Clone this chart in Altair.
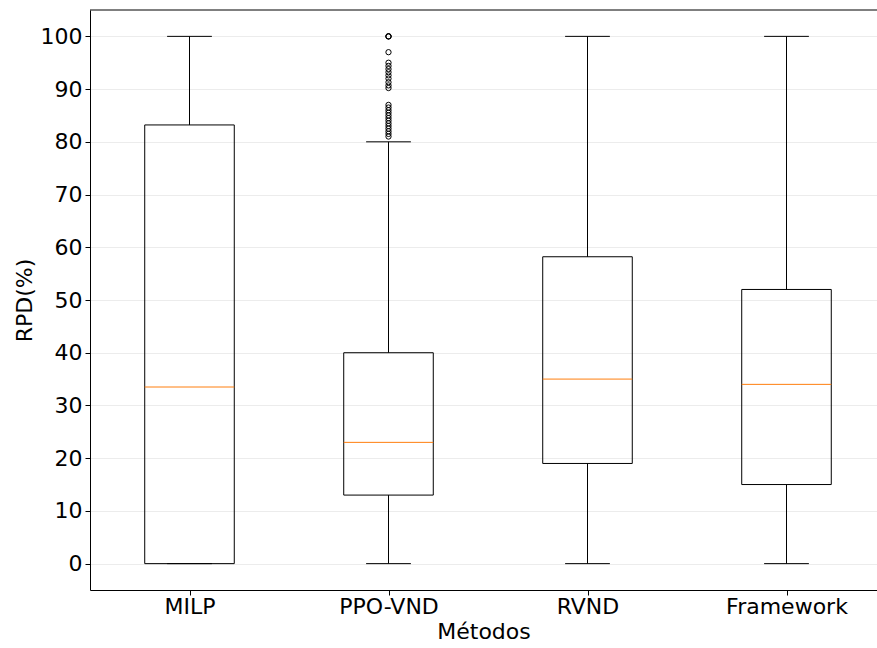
import altair as alt
import pandas as pd

# ---- data ----
methods = ["MILP", "PPO-VND", "RVND", "Framework"]
positions = [1, 2, 3, 4]
q1 = [0.0, 13.0, 19.0, 15.0]
median = [33.5, 23.0, 35.0, 34.0]
q3 = [83.2, 40.0, 58.2, 52.0]
whisker_low = [0.0, 0.0, 0.0, 0.0]
whisker_high = [100.0, 80.0, 100.0, 100.0]

ppo_outliers = [100.0, 100.0, 100.0, 97.0,
                95.0, 94.4, 93.8, 93.2, 92.6, 92.0, 91.3, 90.7, 90.2,
                87.0, 86.5, 86.0, 85.5, 85.0, 84.5, 84.0, 83.5, 83.0,
                82.5, 82.0, 81.5, 81.0]
outlier_pos = [2] * len(ppo_outliers)

y_ticks = list(range(0, 101, 10))

box_df = pd.DataFrame({
    "method": methods, "pos": positions, "q1": q1, "median": median,
    "q3": q3, "low": whisker_low, "high": whisker_high,
})
out_df = pd.DataFrame({"pos": outlier_pos, "value": ppo_outliers})

FONT = "DejaVu Sans"
W, H = 787, 580
half_box = 0.225
half_cap = 0.1125

x_scale = alt.Scale(domain=[0.5, 0.5 + W / 199.0], nice=False, zero=False)
y_scale = alt.Scale(domain=[-5, 105], nice=False, zero=False)

label_expr = "[" + ",".join("'" + m + "'" for m in methods) + "][datum.value - 1]"

x_axis = alt.Axis(values=positions, labelExpr=label_expr, title="Métodos",
                  grid=False, tickSize=5, tickColor="black", domainColor="black",
                  labelFont=FONT, labelFontSize=22, labelColor="black",
                  titleFont=FONT, titleFontSize=22, titleFontWeight="normal",
                  titleColor="black", labelPadding=1, titlePadding=4)
y_axis = alt.Axis(values=y_ticks, title="RPD(%)", grid=True, gridColor="#ececec",
                  tickSize=5, tickColor="black", domainColor="black",
                  labelFont=FONT, labelFontSize=22, labelColor="black",
                  titleFont=FONT, titleFontSize=22, titleFontWeight="normal",
                  titleColor="black", labelPadding=3, titlePadding=4)


def X(field):
    return alt.X(field, scale=x_scale, axis=x_axis)


def Y(field):
    return alt.Y(field, scale=y_scale, axis=y_axis)


base = alt.Chart(box_df).transform_calculate(
    bx0=f"datum.pos - {half_box}", bx1=f"datum.pos + {half_box}",
    cx0=f"datum.pos - {half_cap}", cx1=f"datum.pos + {half_cap}",
)

box = base.mark_rect(fill="white", fillOpacity=0, stroke="black", strokeWidth=1).encode(
    x=X("bx0:Q"), x2="bx1:Q", y=Y("q1:Q"), y2="q3:Q")
whisk_hi = base.mark_rule(color="black", strokeWidth=1).encode(
    x=X("pos:Q"), y=Y("q3:Q"), y2="high:Q")
whisk_lo = base.mark_rule(color="black", strokeWidth=1).encode(
    x=X("pos:Q"), y=Y("low:Q"), y2="q1:Q")
cap_hi = base.mark_rule(color="black", strokeWidth=1).encode(
    x=X("cx0:Q"), x2="cx1:Q", y=Y("high:Q"))
cap_lo = base.mark_rule(color="black", strokeWidth=1).encode(
    x=X("cx0:Q"), x2="cx1:Q", y=Y("low:Q"))
med = base.mark_rule(color="#ff7f0e", strokeWidth=1).encode(
    x=X("bx0:Q"), x2="bx1:Q", y=Y("median:Q"))

outliers = alt.Chart(out_df).mark_point(shape="circle", filled=False, color="black",
                                        size=28, strokeWidth=1, opacity=1).encode(
    x=X("pos:Q"), y=Y("value:Q"))

top_spine = alt.Chart(pd.DataFrame({"k": [0]})).mark_rule(color="black", strokeWidth=1).encode(
    x=alt.value(0), x2=alt.value(W), y=alt.value(0))

chart = alt.layer(box, whisk_hi, whisk_lo, cap_hi, cap_lo, med, outliers, top_spine).properties(
    width=W, height=H,
    autosize=alt.AutoSizeParams(type="none"),
    padding={"left": 90, "top": 10, "right": 0, "bottom": 58},
    background="white",
).configure_view(stroke=None)

chart.save("out.html", embed_options={"renderer": "svg", "actions": False})
